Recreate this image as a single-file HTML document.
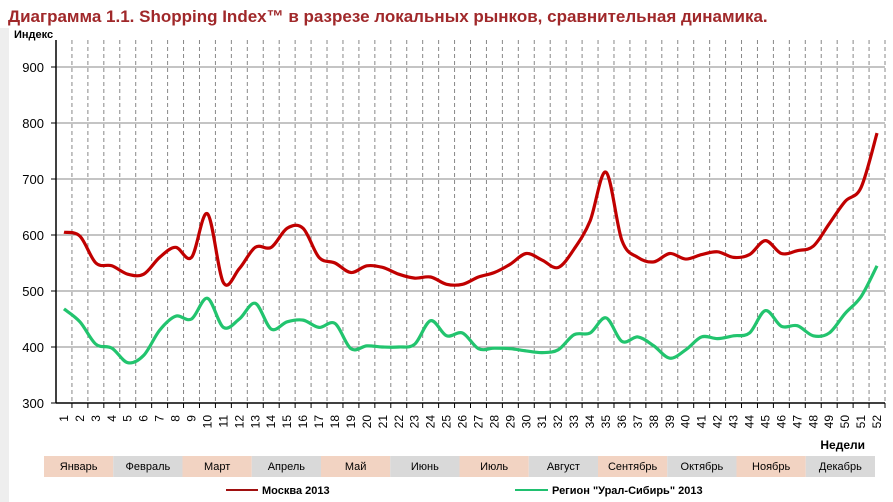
<!DOCTYPE html>
<html><head><meta charset="utf-8"><style>
body{margin:0;background:#fff;}
svg{display:block;font-family:"Liberation Sans","DejaVu Sans",sans-serif;}
</style></head><body>
<svg id="c" width="893" height="502" viewBox="0 0 893 502">
<rect x="0" y="0" width="893" height="502" fill="#ffffff"/>
<rect x="0" y="28" width="9" height="474" fill="#eeeeee"/>
<text x="8" y="22" font-size="17" font-weight="bold" fill="#a0282a">Диаграмма 1.1. Shopping Index™ в разрезе локальных рынков, сравнительная динамика.</text>
<text x="14" y="38" font-size="11" font-weight="bold" fill="#000">Индекс</text>
<text x="865" y="449" font-size="12" font-weight="bold" fill="#000" text-anchor="end">Недели</text>
<g id="grid"></g><g id="axes"></g><g id="series"></g><g id="months"></g>
<g>
<line x1="226" y1="490" x2="258" y2="490" stroke="#a01010" stroke-width="2"/>
<text x="262" y="494" font-size="11" font-weight="bold">Москва 2013</text>
<line x1="515" y1="490" x2="548" y2="490" stroke="#20c070" stroke-width="2"/>
<text x="552" y="494" font-size="11" font-weight="bold">Регион "Урал-Сибирь" 2013</text>
</g>
</svg>
<script>
const weeks = Array.from({length:52},(_, i)=>i+1);
const moscow = [605,598,550,545,530,530,560,578,560,638,515,540,578,578,612,612,560,550,533,545,542,530,523,525,512,512,525,533,548,567,555,542,575,625,712,590,560,552,567,557,565,570,560,565,590,567,572,580,620,660,685,782];
const ural = [468,445,405,398,372,385,430,455,450,487,435,450,478,432,445,448,435,442,397,402,400,400,405,447,420,425,397,398,397,393,390,395,422,425,452,410,418,402,380,395,418,415,420,425,465,437,438,420,425,460,490,545];
const yTicks = [300,400,500,600,700,800,900];
const months = ["Январь","Февраль","Март","Апрель","Май","Июнь","Июль","Август","Сентябрь","Октябрь","Ноябрь","Декабрь"];
const NS="http://www.w3.org/2000/svg";
const x0=56, x1=885, bw=(x1-x0)/52;
const xC=i=>x0+bw*(i+0.5);
const yS=v=>403-(v-300)*0.56;
function mk(tag,attrs,parent){const e=document.createElementNS(NS,tag);for(const k in attrs)e.setAttribute(k,attrs[k]);parent.appendChild(e);return e;}
const grid=document.getElementById('grid'), axes=document.getElementById('axes'), ser=document.getElementById('series'), mg=document.getElementById('months');
for(let k=1;k<=52;k++){
  const l=mk('line',{x1:x0+bw*k,x2:x0+bw*k,y1:40,y2:403,stroke:'#888','stroke-width':1,'stroke-dasharray':'4,3'},grid);
  
  
}
yTicks.forEach(v=>{
  if(v>300){const l=mk('line',{x1:x0,x2:x1,y1:yS(v),y2:yS(v),stroke:'#888','stroke-width':1},grid);
  
  }
  const t=mk('text',{x:44,y:yS(v)+5,'font-size':13,'text-anchor':'end',fill:'#000'},axes);
  t.textContent=v;
  
  
  const tk=mk('line',{x1:x0-5,x2:x0,y1:yS(v),y2:yS(v),stroke:'#000'},axes);
  
  
});
const ya=mk('line',{x1:x0,x2:x0,y1:40,y2:403,stroke:'#000','stroke-width':1.5},axes);


const xa=mk('line',{x1:x0,x2:x1,y1:403,y2:403,stroke:'#000','stroke-width':1.5},axes);


weeks.forEach((w,i)=>{
  const tk=mk('line',{x1:x0+bw*(i+1),x2:x0+bw*(i+1),y1:403,y2:408,stroke:'#000'},axes);
  
  
  const t=mk('text',{transform:`translate(${xC(i)+4},415) rotate(-90)`,'font-size':12,'text-anchor':'end',fill:'#000'},axes);
  t.textContent=w;
  
  
});
function path(vals){
  const p=vals.map((v,i)=>[xC(i),yS(v)]);
  let d=`M${p[0][0]},${p[0][1]}`;
  for(let i=0;i<p.length-1;i++){
    const a=p[Math.max(i-1,0)],b=p[i],c=p[i+1],e=p[Math.min(i+2,p.length-1)];
    const c1=[b[0]+(c[0]-a[0])/6,b[1]+(c[1]-a[1])/6],c2=[c[0]-(e[0]-b[0])/6,c[1]-(e[1]-b[1])/6];
    d+=` C${c1[0]},${c1[1]} ${c2[0]},${c2[1]} ${c[0]},${c[1]}`;
  }
  return d;
}
const pm=mk('path',{d:path(moscow),fill:'none',stroke:'#c00000','stroke-width':3.2,'stroke-linejoin':'round'},ser);


const pu=mk('path',{d:path(ural),fill:'none',stroke:'#22c46e','stroke-width':3.2,'stroke-linejoin':'round'},ser);


const mx0=44, mw=(875-44)/12;
months.forEach((m,i)=>{
  const r=mk('rect',{x:mx0+mw*i,y:456,width:mw,height:21,fill:i%2?'#d9d9d9':'#f2d3c2'},mg);
  
  
  const t=mk('text',{x:mx0+mw*(i+0.5),y:470,'font-size':11,'text-anchor':'middle',fill:'#000'},mg);
  t.textContent=m;
  
  
});
</script>
</body></html>
